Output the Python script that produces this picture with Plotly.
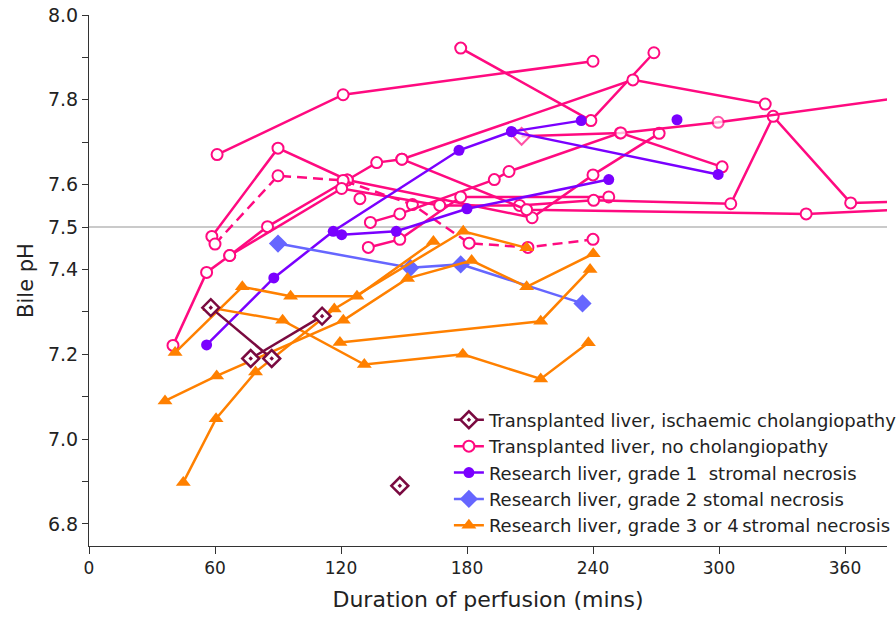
import plotly.graph_objects as go

# ---- data: bile pH against duration of perfusion (minutes) ----
# Transplanted liver, ischaemic cholangiopathy
isch_a_min = [58, 87]
isch_a_ph = [7.31, 7.19]
isch_b_min = [77, 111]
isch_b_ph = [7.19, 7.29]
isch_c_min = [148]
isch_c_ph = [6.89]

# Transplanted liver, no cholangiopathy
noc_a_min = [61, 121, 240]
noc_a_ph = [7.671, 7.812, 7.891]
noc_b_min = [177, 239, 269]
noc_b_ph = [7.922, 7.751, 7.911]
noc_c_min = [40, 56, 67, 85, 123, 137, 149, 259, 322]
noc_c_ph = [7.221, 7.393, 7.433, 7.501, 7.611, 7.652, 7.660, 7.847, 7.790]
noc_d_min = [58.5, 90, 123, 211, 240, 271.5]
noc_d_ph = [7.478, 7.686, 7.611, 7.522, 7.623, 7.721]
noc_e_min = [60, 90, 121, 154, 181, 209, 240]          # dashed trace
noc_e_ph = [7.46, 7.621, 7.61, 7.553, 7.462, 7.452, 7.471]
noc_f_min = [134, 148, 193, 200, 253, 301.5]
noc_f_ph = [7.511, 7.531, 7.612, 7.631, 7.722, 7.642]
noc_g_min = [133, 148, 177, 247.5]
noc_g_ph = [7.452, 7.471, 7.571, 7.571]
noc_h_min = [67, 120.3, 167, 205, 240.3, 305.6, 325.8, 362.7, 385]
noc_h_ph = [7.433, 7.591, 7.551, 7.551, 7.563, 7.555, 7.761, 7.557, 7.56]
noc_i_min = [149, 208.4, 341.5, 385]
noc_i_ph = [7.660, 7.541, 7.531, 7.541]
noc_j_min = [206, 253.3, 299.6, 385]
noc_j_ph = [7.714, 7.722, 7.747, 7.804]
noc_k_min = [129]
noc_k_ph = [7.567]

# Research liver, grade 1 stromal necrosis
g1_a_min = [56, 88, 116.3, 176.2, 201.2, 234.4]
g1_a_ph = [7.222, 7.380, 7.490, 7.681, 7.725, 7.751]
g1_b_min = [120.3, 146.3, 180, 247.5]
g1_b_ph = [7.482, 7.490, 7.543, 7.612]
g1_c_min = [201.2, 299.6]
g1_c_ph = [7.725, 7.624]
g1_d_min = [280]
g1_d_ph = [7.753]

# Research liver, grade 2 stromal necrosis
g2_min = [90, 153, 177, 235]
g2_ph = [7.461, 7.404, 7.412, 7.320]

# Research liver, grade 3 or 4 stromal necrosis
g34_a_min = [41, 73, 96, 127.6, 164]
g34_a_ph = [7.204, 7.359, 7.337, 7.337, 7.466]
g34_b_min = [57.6, 92.2, 131.1, 178, 215.1, 237.8]
g34_b_ph = [7.310, 7.280, 7.176, 7.200, 7.142, 7.227]
g34_c_min = [36.2, 60.8, 121.1, 151.7, 182.2, 208.4, 240.1]
g34_c_ph = [7.090, 7.149, 7.280, 7.379, 7.421, 7.359, 7.437]
g34_d_min = [44.9, 60.5, 79.3, 116.8, 178.2, 208.4]
g34_d_ph = [6.898, 7.048, 7.158, 7.307, 7.490, 7.451]
g34_e_min = [119.5, 215.1, 238.6]
g34_e_ph = [7.228, 7.278, 7.400]

x_ticks = [0, 60, 120, 180, 240, 300, 360]
y_ticks = [6.8, 6.9, 7.0, 7.1, 7.2, 7.3, 7.4, 7.5, 7.6, 7.7, 7.8, 7.9, 8.0]
y_labels = ["6.8", "", "7.0", "", "7.2", "", "7.4", "7.5", "7.6", "", "7.8", "", "8.0"]

FONT = "DejaVu Sans, Verdana, sans-serif"
PINK = "#ff0a80"
PURPLE = "#7a00ff"
BLUE = "#6666ff"
ORANGE = "#ff8000"
MAROON = "#7a0a40"

NAMES = {
    "isch": "Transplanted liver, ischaemic cholangiopathy",
    "noc": "Transplanted liver, no cholangiopathy",
    "g1": "Research liver, grade 1  stromal necrosis",
    "g2": "Research liver, grade 2 stomal necrosis",
    "g34": "Research liver, grade 3 or 4\u2009stromal necrosis",
}
RANK = {"isch": 1, "noc": 2, "g1": 3, "g2": 4, "g34": 5}

fig = go.Figure()
shown = set()


def add(group, xs, ys, color, marker, dash="solid"):
    first = group not in shown
    shown.add(group)
    fig.add_trace(go.Scatter(
        x=xs, y=ys, mode="lines+markers",
        name=NAMES[group], legendgroup=group, legendrank=RANK[group],
        showlegend=first,
        line=dict(color=color, width=2.5, dash=dash),
        marker=marker,
    ))


def circle_open():
    return dict(symbol="circle", size=11, color="white",
                line=dict(color=PINK, width=2))


# transplanted, no cholangiopathy
for xs, ys, d in [
    (noc_a_min, noc_a_ph, "solid"), (noc_b_min, noc_b_ph, "solid"),
    (noc_c_min, noc_c_ph, "solid"), (noc_d_min, noc_d_ph, "solid"),
    (noc_e_min, noc_e_ph, "10px,6px"), (noc_f_min, noc_f_ph, "solid"),
    (noc_g_min, noc_g_ph, "solid"), (noc_h_min, noc_h_ph, "solid"),
    (noc_i_min, noc_i_ph, "solid"), (noc_k_min, noc_k_ph, "solid"),
]:
    add("noc", xs, ys, PINK, circle_open(), d)
add("noc", noc_j_min, noc_j_ph, PINK,
    dict(symbol=["diamond"] + ["circle"] * (len(noc_j_min) - 1),
         size=[13] + [11] * (len(noc_j_min) - 1), color="white",
         line=dict(color=PINK, width=2)))

# grade 1
for xs, ys in [(g1_a_min, g1_a_ph), (g1_b_min, g1_b_ph),
               (g1_c_min, g1_c_ph), (g1_d_min, g1_d_ph)]:
    add("g1", xs, ys, PURPLE, dict(symbol="circle", size=11, color=PURPLE))

# grade 2
add("g2", g2_min, g2_ph, BLUE, dict(symbol="diamond", size=14, color=BLUE))

# grade 3 or 4
for xs, ys in [(g34_a_min, g34_a_ph), (g34_b_min, g34_b_ph),
               (g34_c_min, g34_c_ph), (g34_d_min, g34_d_ph),
               (g34_e_min, g34_e_ph)]:
    add("g34", xs, ys, ORANGE,
        dict(symbol="triangle-up", size=13, color=ORANGE))

# ischaemic cholangiopathy (drawn last, on top)
for xs, ys in [(isch_a_min, isch_a_ph), (isch_b_min, isch_b_ph),
               (isch_c_min, isch_c_ph)]:
    add("isch", xs, ys, MAROON,
        dict(symbol="diamond-dot", size=13, color="white",
             line=dict(color=MAROON, width=2.5)))

# reference line at pH 7.5
fig.add_shape(type="line", xref="x", yref="y", x0=0, x1=380, y0=7.5, y1=7.5,
              line=dict(color="#b8b8b8", width=1.5), layer="below")

fig.update_layout(
    width=896, height=620,
    margin=dict(l=89, r=9, t=15, b=74, autoexpand=False),
    paper_bgcolor="white", plot_bgcolor="white",
    font=dict(family=FONT, color="#222222"),
    legend=dict(x=0.451, y=0.272, xanchor="left", yanchor="top",
                bgcolor="rgba(0,0,0,0)", font=dict(size=18, family=FONT),
                traceorder="grouped", tracegroupgap=0, itemwidth=30),
    xaxis=dict(range=[0, 380], tickvals=x_ticks, ticks="outside", ticklen=7,
               tickcolor="#333", showline=True, linecolor="#333", linewidth=1,
               showgrid=False, zeroline=False,
               tickfont=dict(size=17, family=FONT),
               title=dict(text="Duration of perfusion (mins)",
                          font=dict(size=22, family=FONT), standoff=14)),
    yaxis=dict(range=[6.748, 8.0], tickvals=y_ticks, ticktext=y_labels,
               ticks="outside", ticklen=6, tickcolor="#333", showline=True,
               linecolor="#333", linewidth=1, showgrid=False, zeroline=False,
               tickfont=dict(size=19, family=FONT),
               title=dict(text="Bile pH", font=dict(size=21, family=FONT),
                          standoff=8)),
)

fig.write_html("out.html")
